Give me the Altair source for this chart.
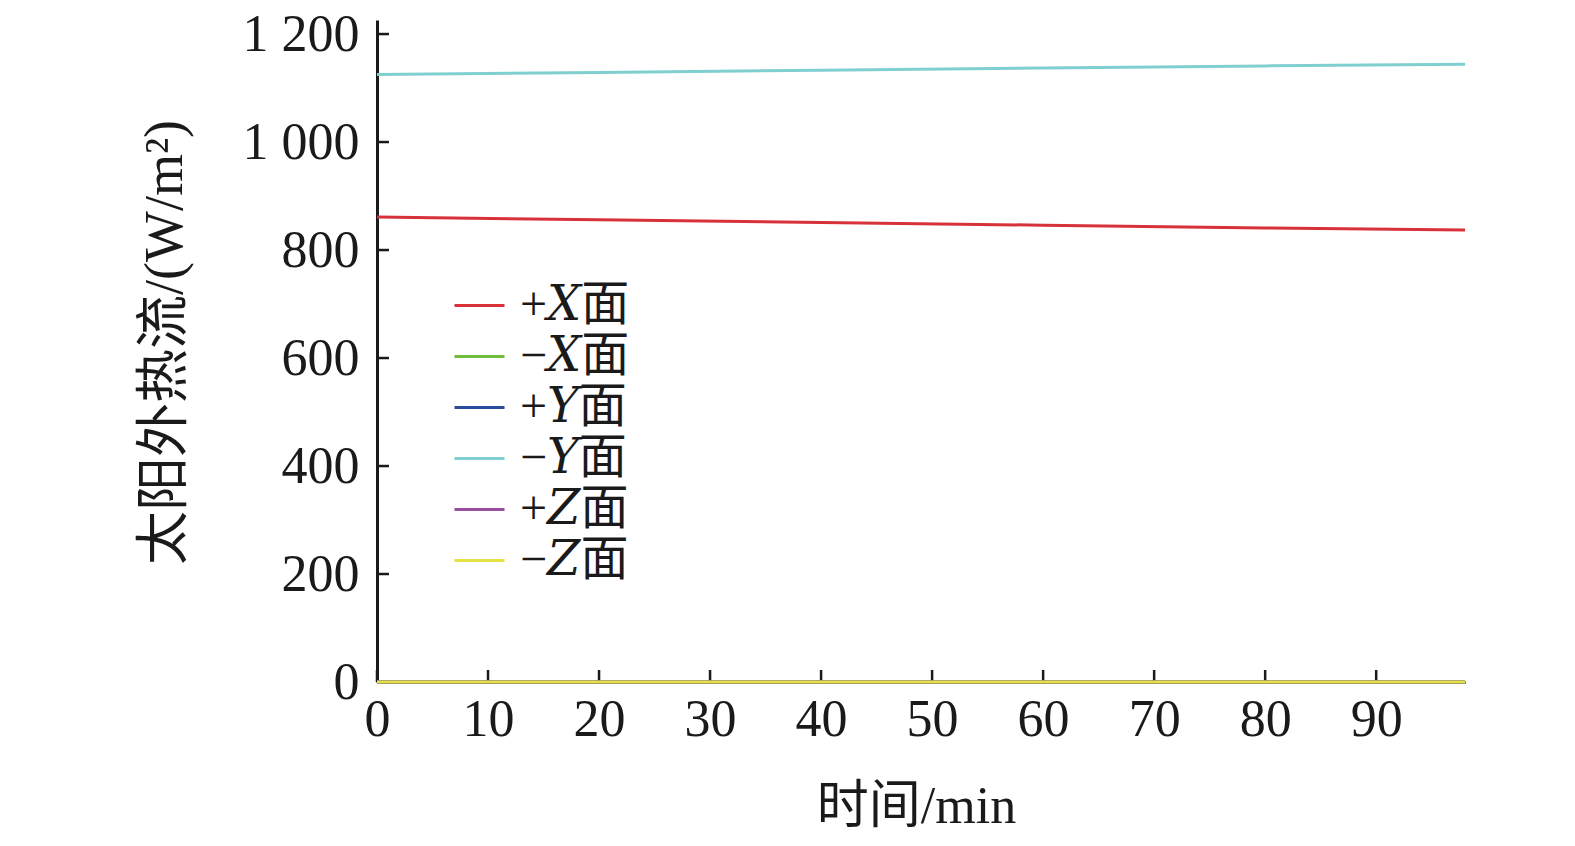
import altair as alt
import pandas as pd

# ---- data ----
times = [0, 20, 40, 60, 80, 98]
series_names = ["+𝑋面", "−𝑋面", "+𝑌面", "−𝑌面", "+𝑍面", "−𝑍面"]
px_vals = [861, 856, 851, 846, 841, 837]
nx_vals = [0, 0, 0, 0, 0, 0]
py_vals = [0, 0, 0, 0, 0, 0]
ny_vals = [1125, 1129, 1133, 1137, 1141, 1144]
pz_vals = [0, 0, 0, 0, 0, 0]
nz_vals = [0, 0, 0, 0, 0, 0]
colors = ["#d7313a", "#6fbf3d", "#2b4b9b", "#80cfd0", "#9a4c9f", "#e3e345"]
x_ticks = [0, 10, 20, 30, 40, 50, 60, 70, 80, 90]
y_ticks = [0, 200, 400, 600, 800, 1000, 1200]

all_vals = [px_vals, nx_vals, py_vals, ny_vals, pz_vals, nz_vals]
rows = []
for i, (name, vals) in enumerate(zip(series_names, all_vals)):
    for t, v in zip(times, vals):
        rows.append({"t": t, "q": v, "s": name, "o": i})
df = pd.DataFrame(rows)

FONT = "Liberation Serif, Times New Roman, Noto Sans CJK SC"
LFONT = "Liberation Serif, DejaVu Serif, Noto Sans CJK SC"
W, H = 1088, 662

xs = alt.Scale(domain=[0, 98], nice=False, zero=False)
ys = alt.Scale(domain=[0, 1226], nice=False)

lines = alt.Chart(df).mark_line(strokeWidth=3).encode(
    x=alt.X("t:Q", scale=xs,
            axis=alt.Axis(values=x_ticks, ticks=False, grid=False, domainColor="#1a1a1a",
                          domainWidth=3, labelFont=FONT, labelFontSize=52, labelColor="#1a1a1a",
                          labelPadding=12, labelFlush=False,
                          title="时间/min", titleFont=FONT, titleFontSize=52,
                          titleFontWeight="normal", titleColor="#1a1a1a",
                          titleX=539, titleY=124, titleBaseline="middle", titleAlign="center")),
    y=alt.Y("q:Q", scale=ys,
            axis=alt.Axis(values=y_ticks, ticks=False, grid=False, domainColor="#1a1a1a",
                          domainWidth=3, labelFont=FONT, labelFontSize=52, labelColor="#1a1a1a",
                          labelPadding=18, labelFlush=False,
                          labelExpr="replace(format(datum.value, ','), ',', ' ')",
                          title="太阳外热流/(W/m²)", titleFont=FONT, titleFontSize=54,
                          titleFontWeight="normal", titleColor="#1a1a1a",
                          titleX=-212, titleY=322, titleAngle=-90,
                          titleBaseline="middle", titleAlign="center")),
    color=alt.Color("s:N", scale=alt.Scale(domain=series_names, range=colors),
                    sort=series_names,
                    legend=alt.Legend(title=None, orient="none", legendX=76, legendY=259,
                                      symbolType="stroke", symbolSize=2500, symbolStrokeWidth=3,
                                      labelFont=LFONT, labelFontSize=48, labelColor="#1a1a1a",
                                      labelOffset=14, rowPadding=0, padding=0,
                                      labelLimit=400)),
    order=alt.Order("o:Q"),
    detail="o:N",
)

xt = alt.Chart(pd.DataFrame({"t": x_ticks})).mark_rule(color="#1a1a1a", strokeWidth=2.5).encode(
    x=alt.X("t:Q", scale=xs), y=alt.value(H), y2=alt.value(H - 12))
yt = alt.Chart(pd.DataFrame({"q": y_ticks})).mark_rule(color="#1a1a1a", strokeWidth=2.5).encode(
    y=alt.Y("q:Q", scale=ys), x=alt.value(0), x2=alt.value(12))

chart = alt.layer(xt, yt, lines).properties(
    width=W, height=H,
    autosize=alt.AutoSizeParams(type="none"),
    padding={"left": 369, "top": 12, "right": 88, "bottom": 160},
    background="white",
).configure_view(stroke=None)

chart.save("out.html", embed_options={"renderer": "svg", "actions": False})
